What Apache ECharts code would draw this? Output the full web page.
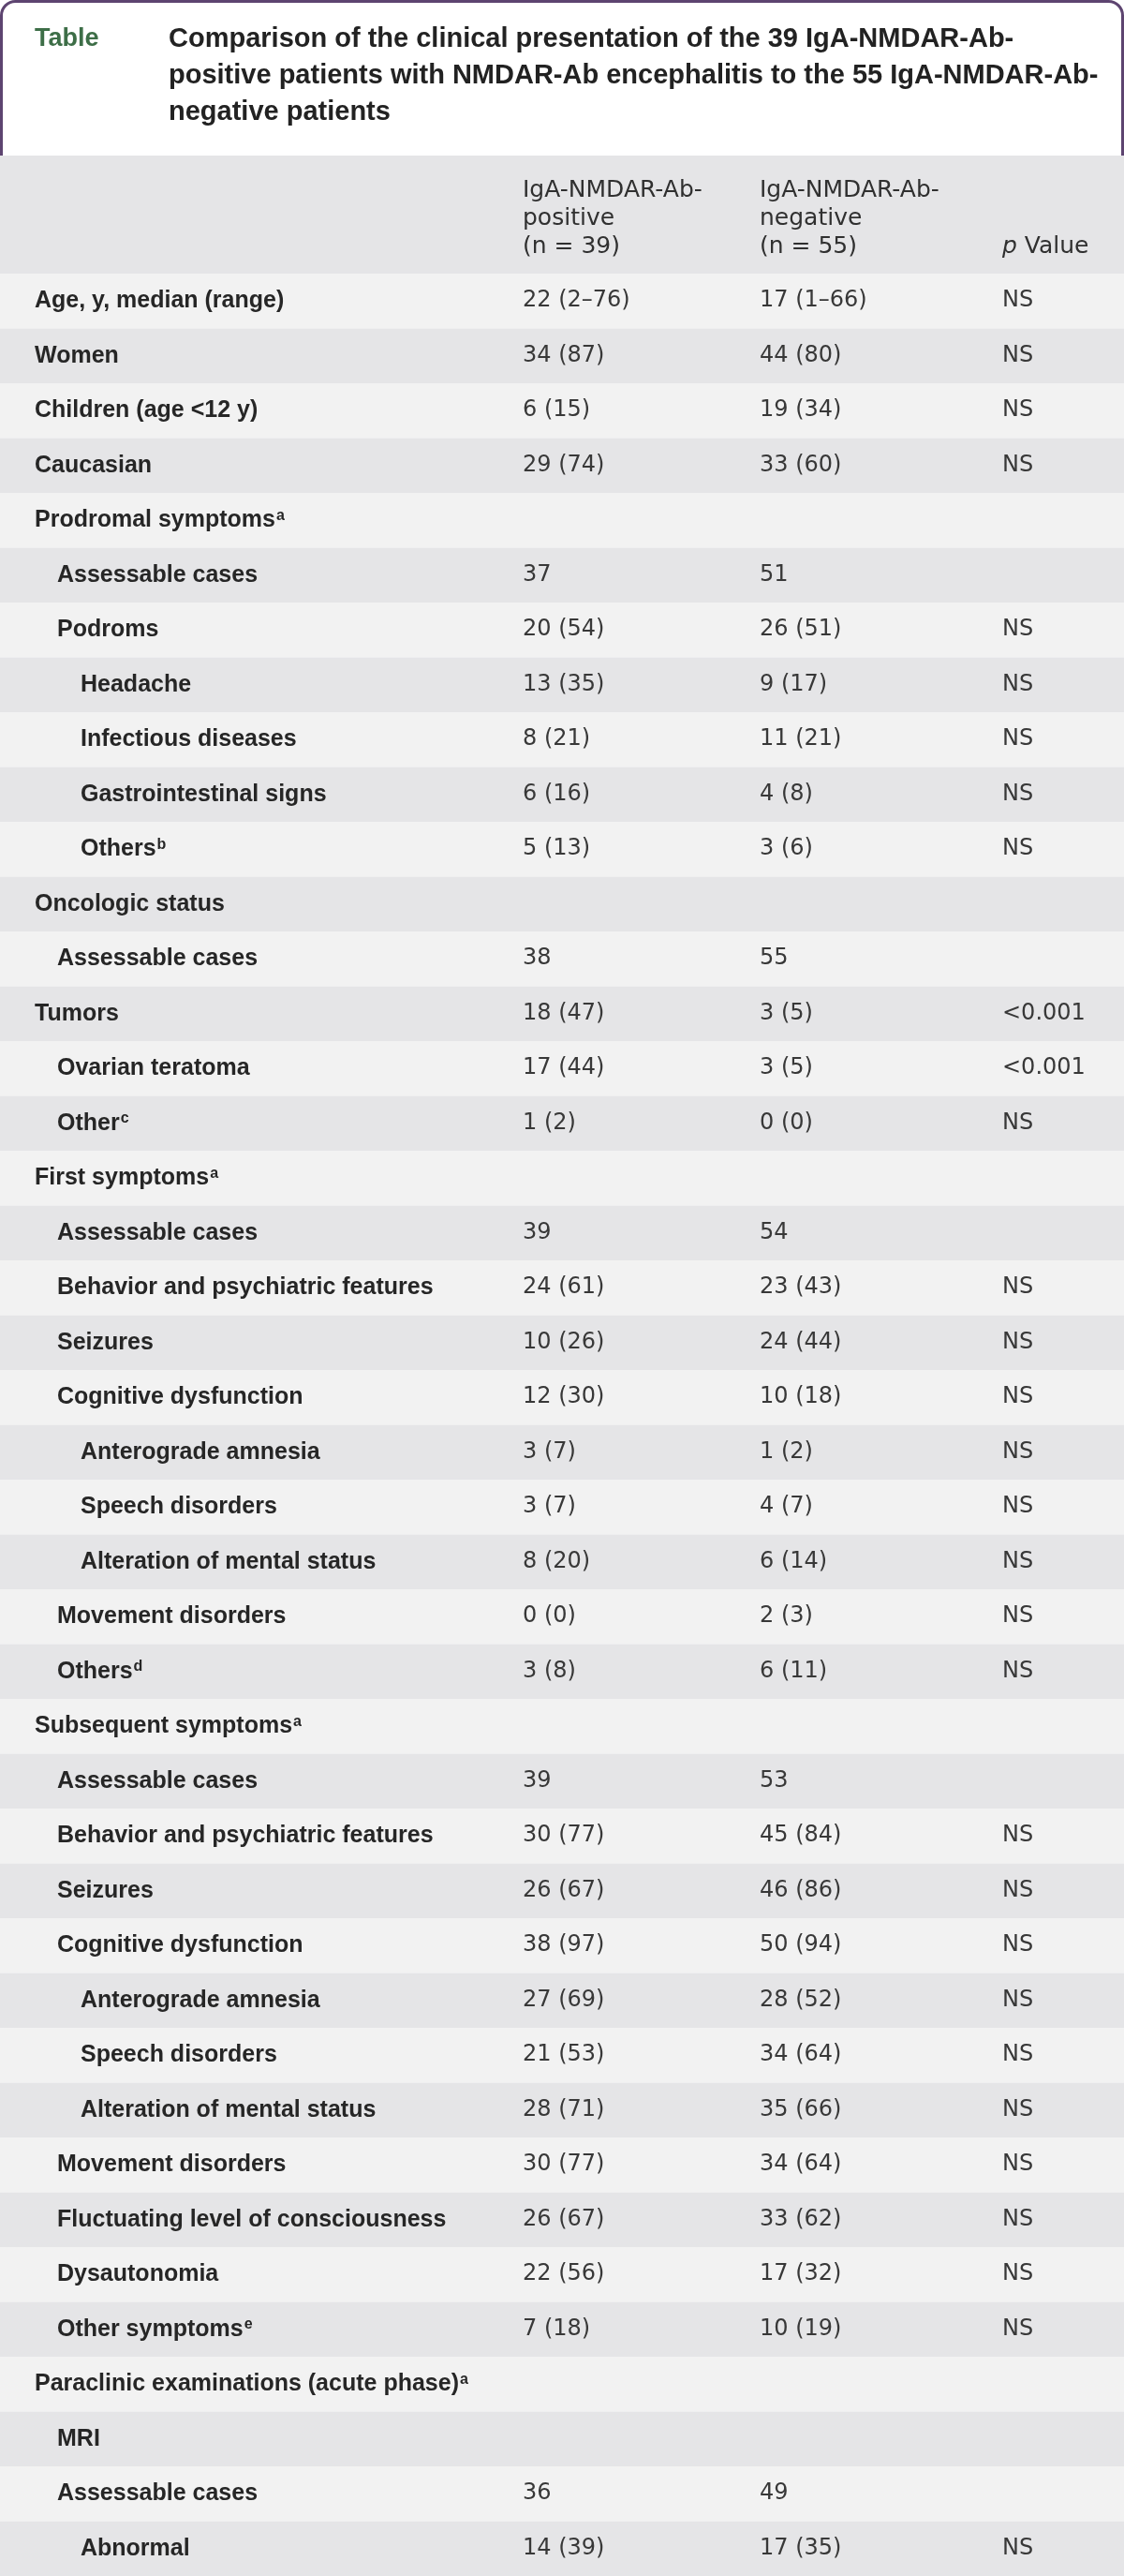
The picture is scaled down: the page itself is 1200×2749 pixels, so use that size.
<!DOCTYPE html>
<html><head><meta charset="utf-8">
<script src="https://cdn.jsdelivr.net/npm/echarts@6/dist/echarts.min.js"></script>
<style>html,body{margin:0;padding:0;background:#fff}#chart{width:1200px;height:2749px}</style>
</head><body><div id="chart"></div>
<script>
// ---------- data ----------
const tableTag = 'Table';
const titleLines = [
  'Comparison of the clinical presentation of the 39 IgA-NMDAR-Ab-',
  'positive patients with NMDAR-Ab encephalitis to the 55 IgA-NMDAR-Ab-',
  'negative patients'
];
const positiveHeader = ['IgA-NMDAR-Ab-', 'positive', '(n = 39)'];
const negativeHeader = ['IgA-NMDAR-Ab-', 'negative', '(n = 55)'];
const pHeaderItalic = 'p';
const pHeaderRest = ' Value';

const rowLabels = [
  'Age, y, median (range)', 'Women', 'Children (age <12 y)', 'Caucasian',
  'Prodromal symptoms', 'Assessable cases', 'Podroms', 'Headache', 'Infectious diseases', 'Gastrointestinal signs', 'Others',
  'Oncologic status', 'Assessable cases', 'Tumors', 'Ovarian teratoma', 'Other',
  'First symptoms', 'Assessable cases', 'Behavior and psychiatric features', 'Seizures', 'Cognitive dysfunction',
  'Anterograde amnesia', 'Speech disorders', 'Alteration of mental status', 'Movement disorders', 'Others',
  'Subsequent symptoms', 'Assessable cases', 'Behavior and psychiatric features', 'Seizures', 'Cognitive dysfunction',
  'Anterograde amnesia', 'Speech disorders', 'Alteration of mental status', 'Movement disorders',
  'Fluctuating level of consciousness', 'Dysautonomia', 'Other symptoms',
  'Paraclinic examinations (acute phase)', 'MRI', 'Assessable cases', 'Abnormal'
];
const rowNotes = [
  '', '', '', '',
  'a', '', '', '', '', '', 'b',
  '', '', '', '', 'c',
  'a', '', '', '', '', '', '', '', '', 'd',
  'a', '', '', '', '', '', '', '', '', '', '', 'e',
  'a', '', '', ''
];
const rowLevels = [
  0, 0, 0, 0,
  0, 1, 1, 2, 2, 2, 2,
  0, 1, 0, 1, 1,
  0, 1, 1, 1, 1, 2, 2, 2, 1, 1,
  0, 1, 1, 1, 1, 2, 2, 2, 1, 1, 1, 1,
  0, 1, 1, 2
];
const positiveValues = [
  '22 (2–76)', '34 (87)', '6 (15)', '29 (74)',
  '', '37', '20 (54)', '13 (35)', '8 (21)', '6 (16)', '5 (13)',
  '', '38', '18 (47)', '17 (44)', '1 (2)',
  '', '39', '24 (61)', '10 (26)', '12 (30)', '3 (7)', '3 (7)', '8 (20)', '0 (0)', '3 (8)',
  '', '39', '30 (77)', '26 (67)', '38 (97)', '27 (69)', '21 (53)', '28 (71)', '30 (77)', '26 (67)', '22 (56)', '7 (18)',
  '', '', '36', '14 (39)'
];
const negativeValues = [
  '17 (1–66)', '44 (80)', '19 (34)', '33 (60)',
  '', '51', '26 (51)', '9 (17)', '11 (21)', '4 (8)', '3 (6)',
  '', '55', '3 (5)', '3 (5)', '0 (0)',
  '', '54', '23 (43)', '24 (44)', '10 (18)', '1 (2)', '4 (7)', '6 (14)', '2 (3)', '6 (11)',
  '', '53', '45 (84)', '46 (86)', '50 (94)', '28 (52)', '34 (64)', '35 (66)', '34 (64)', '33 (62)', '17 (32)', '10 (19)',
  '', '', '49', '17 (35)'
];
const pValues = [
  'NS', 'NS', 'NS', 'NS',
  '', '', 'NS', 'NS', 'NS', 'NS', 'NS',
  '', '', '<0.001', '<0.001', 'NS',
  '', '', 'NS', 'NS', 'NS', 'NS', 'NS', 'NS', 'NS', 'NS',
  '', '', 'NS', 'NS', 'NS', 'NS', 'NS', 'NS', 'NS', 'NS', 'NS', 'NS',
  '', '', '', 'NS'
];

// ---------- layout / style ----------
const W = 1200;
const HEADER_TOP = 166, BODY_TOP = 292;
const LABEL_X = [37, 61, 86];
const POS_X = 558, NEG_X = 811, P_X = 1070;
const LIGHT = '#f2f2f2', DARK = '#e5e5e7';
const PURPLE = '#5d4470', GREEN = '#3d6e47';
const LABEL_FONT = { fontFamily: 'Liberation Sans', fontWeight: 'bold', fontSize: 25 };
const VALUE_FONT = { fontFamily: 'DejaVu Sans', fontWeight: 'normal', fontSize: 24 };
const HEAD_FONT = { fontFamily: 'DejaVu Sans', fontWeight: 'normal', fontSize: 25 };
const LABEL_COLOR = '#262626', VALUE_COLOR = '#383838';

const rowIdx = rowLabels.map((_, i) => i);

const chart = echarts.init(document.getElementById('chart'), null, { renderer: 'canvas' });

function textEl(x, y, text, font, fill) {
  return {
    type: 'text', z: 3, x: x, y: y,
    style: Object.assign({ text: text, fill: fill, align: 'left', verticalAlign: 'middle' }, font)
  };
}

const graphics = [
  { type: 'rect', z: 1, shape: { x: 1.5, y: 1.5, width: W - 3, height: 180, r: [15, 15, 0, 0] },
    style: { fill: '#ffffff', stroke: PURPLE, lineWidth: 3 } },
  { type: 'rect', z: 2, shape: { x: 0, y: HEADER_TOP, width: W, height: BODY_TOP - HEADER_TOP },
    style: { fill: DARK } },
  textEl(37, 42, tableTag, { fontFamily: 'Liberation Sans', fontWeight: 'bold', fontSize: 27 }, GREEN)
];
titleLines.forEach((t, k) => {
  graphics.push(textEl(180, 42 + 39 * k, t, { fontFamily: 'Liberation Sans', fontWeight: 'bold', fontSize: 29 }, '#222222'));
});
[positiveHeader, negativeHeader].forEach((lines, c) => {
  lines.forEach((t, k) => {
    graphics.push(textEl(c === 0 ? POS_X : NEG_X, 203 + 30 * k, t, HEAD_FONT, '#303030'));
  });
});
graphics.push({
  type: 'text', z: 3, x: P_X, y: 263,
  style: {
    text: '{i|' + pHeaderItalic + '}{n|' + pHeaderRest + '}',
    align: 'left', verticalAlign: 'middle',
    rich: {
      i: Object.assign({ fill: '#303030', fontStyle: 'italic' }, HEAD_FONT),
      n: Object.assign({ fill: '#303030' }, HEAD_FONT)
    }
  }
});

const option = {
  animation: false,
  backgroundColor: '#ffffff',
  grid: { left: 0, right: 0, top: BODY_TOP, bottom: 0 },
  xAxis: { type: 'value', min: 0, max: W, show: false },
  yAxis: { type: 'category', data: rowIdx, inverse: true, show: false },
  graphic: graphics,
  series: [
    {
      type: 'custom', name: 'bands', silent: true,
      data: rowIdx.map(i => [0, i]),
      encode: { x: 0, y: 1 },
      renderItem: function (params, api) {
        const i = api.value(1);
        const a = api.coord([0, i]);
        const b = api.coord([W, i]);
        const h = api.size([0, 1])[1];
        return { type: 'rect', shape: { x: a[0], y: a[1] - h / 2, width: b[0] - a[0], height: h },
          style: { fill: i % 2 === 0 ? LIGHT : DARK } };
      }
    },
    {
      type: 'custom', name: 'cells', silent: true,
      data: rowIdx.map(i => [0, i]),
      encode: { x: 0, y: 1 },
      renderItem: function (params, api) {
        const i = api.value(1);
        const yc = api.coord([0, i])[1];
        const lx = api.coord([LABEL_X[rowLevels[i]], i])[0];
        const children = [];
        const note = rowNotes[i];
        children.push({
          type: 'text', x: lx, y: yc,
          style: {
            text: '{l|' + rowLabels[i] + '}' + (note ? '{s|' + note + '}' : ''),
            align: 'left', verticalAlign: 'middle',
            rich: {
              l: Object.assign({ fill: LABEL_COLOR, lineHeight: 26 }, LABEL_FONT),
              s: { fill: LABEL_COLOR, fontFamily: 'Liberation Sans', fontWeight: 'bold', fontSize: 16, lineHeight: 16, verticalAlign: 'top', padding: [0, 0, 0, 1] }
            }
          }
        });
        [[POS_X, positiveValues[i]], [NEG_X, negativeValues[i]], [P_X, pValues[i]]].forEach(function (p) {
          if (!p[1]) return;
          children.push({
            type: 'text', x: api.coord([p[0], i])[0], y: yc,
            style: Object.assign({ text: p[1], fill: VALUE_COLOR, align: 'left', verticalAlign: 'middle' }, VALUE_FONT)
          });
        });
        return { type: 'group', children: children };
      }
    }
  ]
};
chart.setOption(option);
</script>
</body></html>
